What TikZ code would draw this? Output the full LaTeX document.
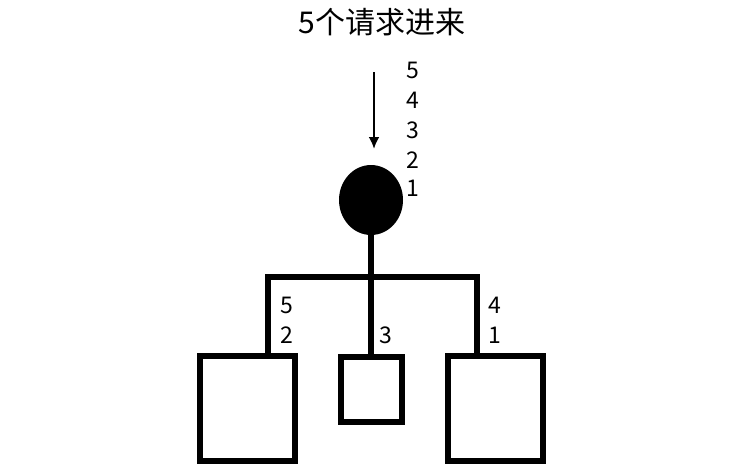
\documentclass[tikz,border=0pt]{standalone}
\usepackage{fontspec}
\newfontfamily\cjk{Noto Sans CJK SC}
\usetikzlibrary{shapes.geometric,arrows.meta}

\tikzset{
  num/.style={font=\cjk\fontsize{23}{23}\selectfont, inner sep=0pt},
  server/.style={draw, line width=6pt, rectangle, inner sep=0pt},
}

\begin{document}
\begin{tikzpicture}[x=1pt,y=-1pt]
\useasboundingbox (0,0) rectangle (743,464);
\node [font=\cjk\fontsize{30}{30}\selectfont, inner sep=0pt] (title) at (382,22) {5个请求进来};
\node [num] (q5) at (413,70) {5};
\node [num] (q4) at (413,100) {4};
\node [num] (q3) at (413,130) {3};
\node [num] (q2) at (413,160) {2};
\node [num] (q1) at (413,188) {1};
\coordinate (in) at (374,72);
\coordinate (tip) at (374,149);
\draw [line width=2.6pt,-{Latex[length=12pt,width=11pt]}] (in) -- (tip);
\node [ellipse, fill=black, minimum width=64pt, minimum height=70pt, inner sep=0pt] (lb) at (371,200) {};
\node [server, minimum width=95pt, minimum height=105pt] (left) at (247.5,408.5) {};
\node [server, minimum width=61pt, minimum height=65pt] (mid) at (371.5,389.5) {};
\node [server, minimum width=95pt, minimum height=105pt] (right) at (495.5,408.5) {};
\coordinate (bl) at (268,277);
\coordinate (br) at (477,277);
\draw [line width=6pt] (lb.south) -- (lb.south |- mid.north);
\draw [line width=6pt] (left.north -| bl) -- (bl) -- (br) -- (right.north -| br);
\node [num] (l5) at (287,305) {5};
\node [num] (l2) at (287,335) {2};
\node [num] (m3) at (386,335) {3};
\node [num] (r4) at (495,305) {4};
\node [num] (r1) at (495,335) {1};
\end{tikzpicture}
\end{document}
